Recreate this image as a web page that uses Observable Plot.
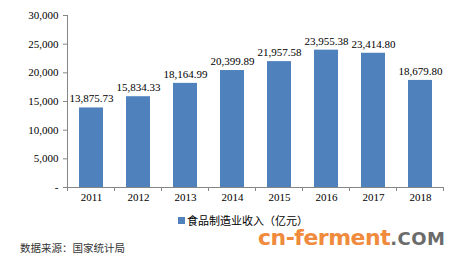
<!DOCTYPE html>
<html><head><meta charset="utf-8">
<script src="https://cdn.jsdelivr.net/npm/d3@7"></script>
<script src="https://cdn.jsdelivr.net/npm/@observablehq/plot@0.6"></script>
<style>
body{margin:0;background:#fff;width:464px;height:260px;overflow:hidden;position:relative;font-family:"Liberation Serif",serif;}
#chart{position:absolute;left:0;top:0;}
#legend{position:absolute;left:178px;top:213px;height:14px;line-height:14px;font-family:"Noto Sans CJK SC",sans-serif;font-size:11px;color:#000;display:flex;align-items:center;white-space:nowrap;}
#legend span.sw{display:inline-block;width:7px;height:7px;background:#4f81bd;margin-right:2px;}
#source{position:absolute;left:20px;top:241px;line-height:14px;font-family:"Noto Sans CJK SC",sans-serif;font-size:10.5px;color:#333;white-space:nowrap;}
#wm{position:absolute;left:258px;top:228px;font-family:"DejaVu Sans",sans-serif;font-weight:bold;font-size:22px;line-height:19px;color:#f08a3c;white-space:nowrap;letter-spacing:-0.5px;}
#wm b{color:#6b6b6b;font-size:18px;letter-spacing:0.5px;}
</style></head>
<body>
<div id="chart"></div>
<div id="legend"><span class="sw"></span>食品制造业收入（亿元）</div>
<div id="source">数据来源：国家统计局</div>
<div id="wm">cn-ferment<b>.COM</b></div>
<script>
const years = ["2011","2012","2013","2014","2015","2016","2017","2018"];
const revenue = [13875.73,15834.33,18164.99,20399.89,21957.58,23955.38,23414.80,18679.80];
const yTicks = [0,5000,10000,15000,20000,25000,30000];
const data = years.map((y,i)=>({year:y, value:revenue[i]}));
const fmt2 = d3.format(",.2f");
function bandTicks(index, scales, values, dims){
  const x = scales.x;
  const step = x(years[1]) - x(years[0]);
  const bw = typeof x.bandwidth === "function" ? x.bandwidth() : (x.bandwidth || 0);
  const y0 = dims.height - dims.marginBottom;
  const g = d3.create("svg:g").attr("stroke","#868686");
  const pts = years.map(yr => x(yr) + bw/2 - step/2);
  pts.push(x(years[years.length-1]) + bw/2 + step/2);
  for (const p of pts) g.append("line").attr("x1",p).attr("x2",p).attr("y1",y0).attr("y2",y0+4);
  return g.node();
}
const plot = Plot.plot({
  width:464, height:210,
  marginLeft:67, marginRight:21, marginTop:15, marginBottom:23,
  style:{fontFamily:"Liberation Serif, serif", fontSize:"11px", color:"#000", background:"#fff"},
  x:{domain:years, paddingInner:0.49, paddingOuter:0.245, label:null},
  y:{domain:[0,30000], label:null},
  marks:[
    Plot.frame({anchor:"left", stroke:"#868686"}),
    Plot.frame({anchor:"bottom", stroke:"#868686"}),
    Plot.axisY({ticks:yTicks, tickSize:4, tickPadding:5, stroke:"#868686", tickFormat:d=>d===0?"-":d3.format(",")(d), fontSize:11}),
    Plot.axisX({tickSize:0, tickPadding:6, fontSize:11}),
    bandTicks,
    Plot.barY(data,{x:"year", y:"value", fill:"#4f81bd"}),
    Plot.text(data,{x:"year", y:"value", text:d=>fmt2(d.value), dy:-9, fontSize:11, fill:"#000"})
  ]
});
document.getElementById("chart").appendChild(plot);
</script>
</body></html>
